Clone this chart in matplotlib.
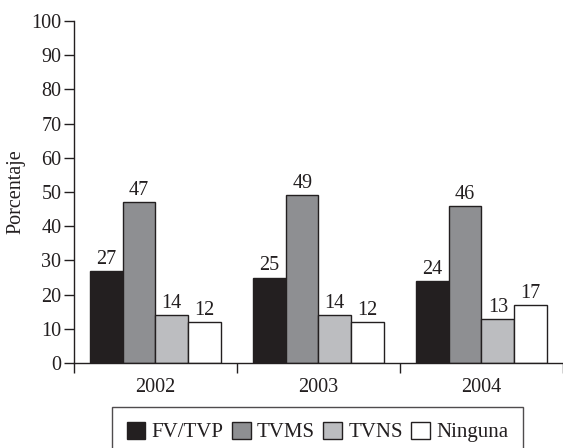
import matplotlib
matplotlib.use("Agg")
import matplotlib.pyplot as plt
import numpy as np

years = ["2002", "2003", "2004"]
series_names = ["FV/TVP", "TVMS", "TVNS", "Ninguna"]
fv_tvp = [27, 25, 24]
tvms = [47, 49, 46]
tvns = [14, 14, 13]
ninguna = [12, 12, 17]
colors = ["#231f20", "#8e8f92", "#bcbdc0", "#ffffff"]

plt.rcParams["font.family"] = ["Liberation Serif", "DejaVu Serif"]
plt.rcParams["font.size"] = 14.5

fig = plt.figure(figsize=(5.63, 4.48), dpi=100)
ax = fig.add_axes([0.1314, 0.1897, 0.8686, 0.7634])

x = np.arange(len(years))
width = 0.2
all_series = [fv_tvp, tvms, tvns, ninguna]
for i, (vals, name, col) in enumerate(zip(all_series, series_names, colors)):
    pos = x + (i - 1.5) * width
    bars = ax.bar(pos, vals, width, color=col, edgecolor="#231f20",
                  linewidth=1.0, label=name)
    for b, v in zip(bars, vals):
        ax.text(b.get_x() + b.get_width() / 2, v + 0.6, str(v),
                ha="center", va="bottom", fontsize=14.5, color="#231f20")

ax.set_xlim(-0.5, 2.5)
ax.set_ylim(0, 100)
ax.set_yticks(np.arange(0, 101, 10))
ax.set_xticks(x)
ax.set_xticklabels(years)
ax.tick_params(axis="x", length=0, pad=11, labelsize=14.5, colors="#231f20")
ax.set_xticks([-0.5, 0.5, 1.5, 2.5], minor=True)
ax.tick_params(axis="x", which="minor", length=7, direction="out", width=1,
               color="#231f20")
ax.tick_params(axis="y", length=7, width=1, labelsize=14.5, direction="out",
               color="#231f20", labelcolor="#231f20", pad=2)
for s in ["top", "right"]:
    ax.spines[s].set_visible(False)
for s in ["left", "bottom"]:
    ax.spines[s].set_linewidth(1.0)
    ax.spines[s].set_color("#231f20")
ax.set_ylabel("Porcentaje", fontsize=14.5, labelpad=4, color="#231f20")

top = 1 - 407 / 448
h = 0.2
leg = fig.legend(loc="upper left",
                 bbox_to_anchor=(112 / 563, top - h, 411 / 563, h),
                 mode="expand", ncol=4, frameon=True, fancybox=False,
                 handlelength=0.9, handleheight=0.9, handletextpad=0.3,
                 columnspacing=1.0, fontsize=15, borderpad=0.7,
                 borderaxespad=0)
leg.get_frame().set_edgecolor("#231f20")
leg.get_frame().set_linewidth(1.0)
for t in leg.get_texts():
    t.set_color("#231f20")

fig.savefig("out.png", dpi=100)
